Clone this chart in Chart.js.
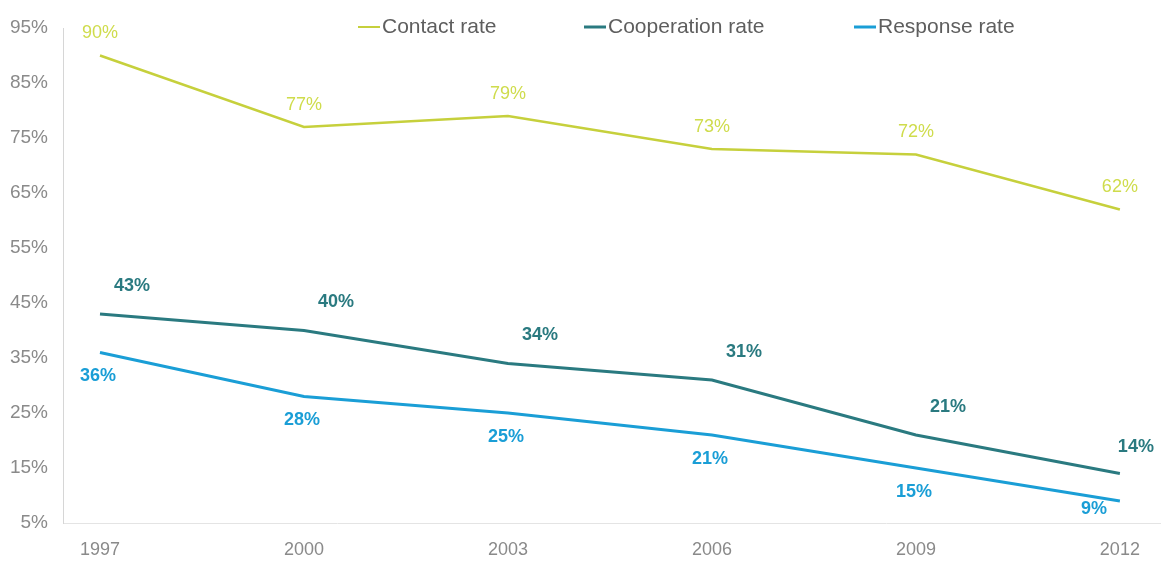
<!DOCTYPE html>
<html>
<head>
<meta charset="utf-8">
<title>Survey rates</title>
<style>
  html, body { margin: 0; padding: 0; background: #fff; }
  #wrap { width: 1165px; height: 565px; position: relative; }
</style>
</head>
<body>
<div id="wrap"><canvas id="chart"></canvas></div>
<script src="https://cdn.jsdelivr.net/npm/chart.js@4.4.1/dist/chart.umd.min.js"></script>
<script>
// survey years and rates (%)
var years = [1997, 2000, 2003, 2006, 2009, 2012];
var contactRate = [90, 77, 79, 73, 72, 62];
var cooperationRate = [43, 40, 34, 31, 21, 14];
var responseRate = [36, 28, 25, 21, 15, 9];
var yTicks = [5, 15, 25, 35, 45, 55, 65, 75, 85, 95];

var seriesNames = ['Contact rate', 'Cooperation rate', 'Response rate'];
var lineColors = ['#c6d03c', '#2a7a80', '#1a9ed6'];
var labelColors = ['#cfdc4c', '#2a7a80', '#1a9ed6'];
var FONT = '"Liberation Sans", Arial, sans-serif';

function pts(vals) {
  return vals.map(function (v, i) { return { x: years[i], y: v }; });
}

// value labels next to each point
var valueLabels = {
  id: 'valueLabels',
  afterDatasetsDraw: function (chart) {
    var ctx = chart.ctx;
    var offs = [[0, -22], [32, -28], [-2, 24]];
    ctx.save();
    ctx.textAlign = 'center';
    ctx.textBaseline = 'middle';
    chart.data.datasets.forEach(function (ds, di) {
      var meta = chart.getDatasetMeta(di);
      ctx.fillStyle = labelColors[di];
      ctx.font = (di === 0 ? 'normal ' : '600 ') + '18px ' + FONT;
      meta.data.forEach(function (el, i) {
        var dx = offs[di][0], dy = offs[di][1];
        if (di === 1 && i === meta.data.length - 1) { dx = 16; dy = -26; }
        if (di === 2 && i === meta.data.length - 1) { dx = -26; dy = 8; }
        ctx.fillText(ds.data[i].y + '%', el.x + dx, el.y + dy);
      });
    });
    ctx.restore();
  }
};

// legend drawn inside the plot area, along the top
var topLegend = {
  id: 'topLegend',
  afterDraw: function (chart) {
    var ctx = chart.ctx;
    var starts = [358, 584, 854];
    var y = 27;
    ctx.save();
    ctx.font = '21px ' + FONT;
    ctx.textBaseline = 'middle';
    ctx.textAlign = 'left';
    seriesNames.forEach(function (name, i) {
      ctx.strokeStyle = lineColors[i];
      ctx.lineWidth = i === 0 ? 2 : 3;
      ctx.beginPath();
      ctx.moveTo(starts[i], y);
      ctx.lineTo(starts[i] + 22, y);
      ctx.stroke();
      ctx.fillStyle = '#5e5e5e';
      ctx.fillText(name, starts[i] + 24, y);
    });
    ctx.restore();
  }
};

new Chart(document.getElementById('chart'), {
  type: 'line',
  data: {
    datasets: [
      { label: seriesNames[0], data: pts(contactRate), borderColor: lineColors[0], borderWidth: 2.5 },
      { label: seriesNames[1], data: pts(cooperationRate), borderColor: lineColors[1], borderWidth: 3 },
      { label: seriesNames[2], data: pts(responseRate), borderColor: lineColors[2], borderWidth: 3 }
    ]
  },
  options: {
    responsive: true,
    maintainAspectRatio: false,
    animation: false,
    layout: { padding: { top: 28, right: 5, left: 0, bottom: 0 } },
    elements: { point: { radius: 0 }, line: { tension: 0 } },
    plugins: { legend: { display: false }, tooltip: { enabled: false } },
    scales: {
      x: {
        type: 'linear',
        min: 1996.456,
        max: 2012.59,
        afterBuildTicks: function (s) { s.ticks = years.map(function (v) { return { value: v }; }); },
        afterFit: function (s) { s.height = 42; },
        grid: { display: false, drawTicks: false },
        border: { color: '#e4e4e4', width: 1 },
        ticks: {
          padding: 16,
          color: '#8a8a8a',
          font: { family: FONT, size: 18 },
          callback: function (v) { return String(v); }
        }
      },
      y: {
        min: 5,
        max: 95,
        afterBuildTicks: function (s) { s.ticks = yTicks.map(function (v) { return { value: v }; }); },
        afterFit: function (s) { s.width = 63; },
        grid: { display: false, drawTicks: false },
        border: { color: '#d6d6d6', width: 1 },
        ticks: {
          padding: 15,
          color: '#8a8a8a',
          font: { family: FONT, size: 19 },
          callback: function (v) { return v + '%'; }
        }
      }
    }
  },
  plugins: [valueLabels, topLegend]
});
</script>
</body>
</html>
